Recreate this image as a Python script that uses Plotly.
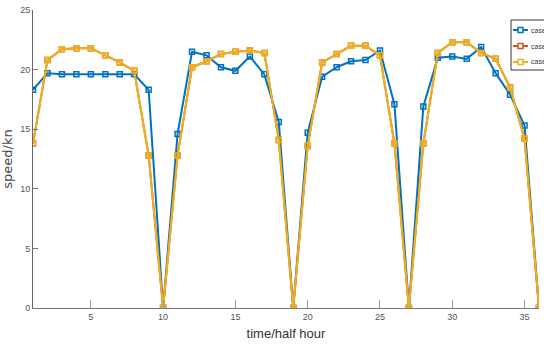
import plotly.graph_objects as go

time = list(range(1, 37))
case3 = [18.3, 19.7, 19.6, 19.6, 19.6, 19.6, 19.6, 19.6, 18.3, 0,
         14.6, 21.5, 21.2, 20.2, 19.9, 21.1, 19.6, 15.6, 0,
         14.7, 19.4, 20.2, 20.7, 20.8, 21.6, 17.1, 0,
         16.9, 21.0, 21.1, 20.9, 21.9, 19.7, 17.9, 15.3, 0]
case1 = [13.8, 20.8, 21.7, 21.8, 21.8, 21.2, 20.6, 19.9, 12.8, 0,
         12.8, 20.2, 20.7, 21.3, 21.5, 21.6, 21.4, 14.1, 0,
         13.6, 20.6, 21.3, 22.0, 22.0, 21.2, 13.8, 0,
         13.8, 21.4, 22.3, 22.3, 21.4, 20.9, 18.5, 14.2, 0]
case2 = list(case1)
x_ticks = [5, 10, 15, 20, 25, 30, 35]
y_ticks = [0, 5, 10, 15, 20, 25]

series = [("case3", case3, "#0072BD"), ("case2", case2, "#D95319"), ("case1", case1, "#EDB120")]

fig = go.Figure()
for name, vals, col in series:
    fig.add_trace(go.Scatter(
        x=time, y=vals, name=name, mode="lines+markers",
        line=dict(color=col, width=2),
        marker=dict(symbol="square-open", size=5, color=col, line=dict(width=1.5, color=col)),
        showlegend=False,
    ))

# plot area spans page x 33..539, y 10..308
PX0, PX1, PY0, PY1 = 33, 539, 10, 308
def fx(px):
    return (px - PX0) / (PX1 - PX0)
def fy(py):
    return (PY1 - py) / (PY1 - PY0)

# custom legend (partly cut off at the right edge as in the reference)
shapes = [dict(type="rect", xref="paper", yref="paper",
               x0=fx(511), x1=fx(580), y0=fy(70), y1=fy(20),
               line=dict(color="#333", width=1), fillcolor="white", layer="above")]
annotations = []
for i, (name, vals, col) in enumerate(series):
    yy = 30 + i * 16
    shapes.append(dict(type="line", xref="paper", yref="paper",
                       x0=fx(513), x1=fx(528), y0=fy(yy), y1=fy(yy),
                       line=dict(color=col, width=2), layer="above"))
    shapes.append(dict(type="rect", xref="paper", yref="paper",
                       x0=fx(518), x1=fx(523), y0=fy(yy + 2.5), y1=fy(yy - 2.5),
                       line=dict(color=col, width=1.5), fillcolor="white", layer="above"))
    annotations.append(dict(xref="paper", yref="paper", x=fx(529), y=fy(yy),
                            xanchor="left", yanchor="middle", showarrow=False, text=name,
                            font=dict(family="Liberation Sans Narrow, Arial Narrow, Liberation Sans, sans-serif",
                                      size=7, color="#333")))

tickfont = dict(family="Liberation Sans Narrow, Arial Narrow, Liberation Sans, sans-serif", size=9, color="#555")
fig.update_layout(
    width=544, height=351,
    margin=dict(l=33, r=5, t=10, b=43, autoexpand=False),
    plot_bgcolor="white", paper_bgcolor="white",
    showlegend=False,
    shapes=shapes, annotations=annotations,
    xaxis=dict(range=[1, 36], tickvals=x_ticks, ticks="inside", ticklen=8, tickcolor="#999",
               showline=True, linecolor="#777", linewidth=1, showgrid=False, zeroline=False,
               tickfont=tickfont, mirror=False, automargin=False, ticklabeloverflow="allow",
               title=dict(text="time/half hour", standoff=8,
                          font=dict(family="Liberation Sans Narrow, Arial Narrow, sans-serif", size=13, color="#333"))),
    yaxis=dict(range=[0, 25], tickvals=y_ticks, ticks="inside", ticklen=5, tickcolor="#777",
               showline=True, linecolor="#666", linewidth=1, showgrid=False, zeroline=False,
               tickfont=tickfont, mirror=False, automargin=False, ticklabeloverflow="allow",
               title=dict(text="speed/kn", standoff=4,
                          font=dict(family="DejaVu Sans, Verdana, sans-serif", size=13, color="#444"))),
)
fig.write_html("out.html", config={"displayModeBar": False},
               post_script="document.body.style.margin='0px';")
